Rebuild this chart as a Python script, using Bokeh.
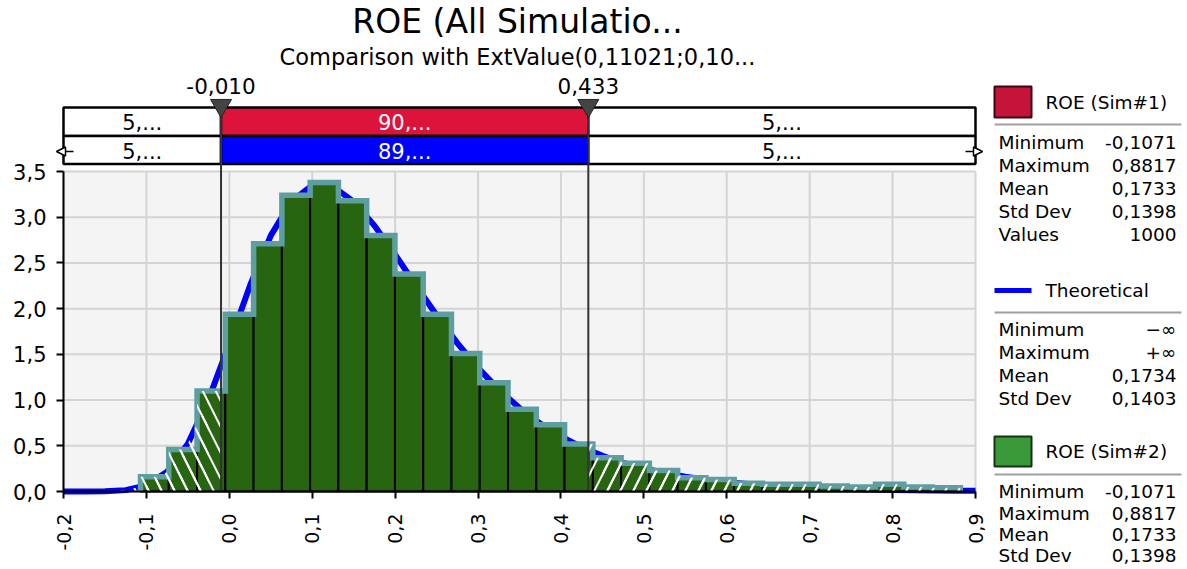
import math
import numpy as np
from bokeh.plotting import figure
from bokeh.models import Range1d, FixedTicker, CustomJSTickFormatter, Arrow, NormalHead
from bokeh.core.properties import value
from bokeh.embed import file_html
from bokeh.resources import INLINE

# ---------------- data ----------------
TITLE = "ROE (All Simulatio..."
SUBTITLE = "Comparison with ExtValue(0,11021;0,10..."

X_TICKS = [-0.2, -0.1, 0.0, 0.1, 0.2, 0.3, 0.4, 0.5, 0.6, 0.7, 0.8, 0.9]
Y_TICKS = [0.0, 0.5, 1.0, 1.5, 2.0, 2.5, 3.0, 3.5]

SIM_MIN = -0.1071
SIM_MAX = 0.8817
DENSITY = [0.16, 0.46, 1.10, 1.94, 2.71, 3.24, 3.38, 3.18, 2.80, 2.38,
           1.94, 1.51, 1.19, 0.90, 0.73, 0.52, 0.37, 0.31, 0.23, 0.15,
           0.13, 0.09, 0.08, 0.08, 0.06, 0.05, 0.08, 0.05, 0.04]

THEO_X = [-0.2, -0.175, -0.15, -0.125, -0.1, -0.075, -0.05, -0.025, 0.0, 0.025,
          0.05, 0.075, 0.1, 0.125, 0.15, 0.175, 0.2, 0.225, 0.25, 0.275,
          0.3, 0.325, 0.35, 0.375, 0.4, 0.425, 0.45, 0.475, 0.5, 0.525,
          0.55, 0.575, 0.6, 0.625, 0.65, 0.675, 0.7, 0.725, 0.75, 0.775,
          0.8, 0.825, 0.85, 0.875, 0.9]
THEO_Y = [0.0, 0.0002, 0.002, 0.015, 0.067, 0.217, 0.523, 1.008, 1.619, 2.254,
          2.799, 3.174, 3.348, 3.334, 3.171, 2.908, 2.591, 2.255, 1.928, 1.623,
          1.352, 1.115, 0.913, 0.743, 0.602, 0.486, 0.391, 0.314, 0.252, 0.202,
          0.161, 0.129, 0.103, 0.082, 0.065, 0.052, 0.041, 0.033, 0.026, 0.021,
          0.017, 0.013, 0.011, 0.008, 0.007]

DELIMS = [-0.010, 0.433]
DELIM_LABELS = ["-0,010", "0,433"]
SIM_PCT = ["5,...", "90,...", "5,..."]
THEO_PCT = ["5,...", "89,...", "5,..."]

SERIES_NAMES = ["ROE (Sim#1)", "Theoretical", "ROE (Sim#2)"]
STAT_NAMES_SIM = ["Minimum", "Maximum", "Mean", "Std Dev", "Values"]
SIM1_STATS = ["-0,1071", "0,8817", "0,1733", "0,1398", "1000"]
STAT_NAMES_THEO = ["Minimum", "Maximum", "Mean", "Std Dev"]
THEO_STATS = ["\u2212\u221e", "+\u221e", "0,1734", "0,1403"]
STAT_NAMES_SIM2 = ["Minimum", "Maximum", "Mean", "Std Dev"]
SIM2_STATS = ["-0,1071", "0,8817", "0,1733", "0,1398"]

# ---------------- styles / layout ----------------
FONT = value("DejaVu Sans")
GREEN = "#286510"
TEAL = "#5f9ea0"
BLUE = "#0000ff"
CRIMSON = "#dc143c"
GRID = "#d4d4d4"
BG = "#f4f4f4"

W, H = 1187, 569
FL, FB = 63, 491                      # position of x=-0.2 / y=0 in page px
X_MIN, X_MAX = X_TICKS[0], X_TICKS[-1]
Y_MAX = Y_TICKS[-1]
PX_PER_X = (975 - FL) / (X_MAX - X_MIN)   # 0.9 sits at 975 px
PX_PER_Y = (FB - 171) / Y_MAX             # 3.5 sits at 171 px

x_range = Range1d(X_MIN - FL / PX_PER_X, X_MIN + (W - FL) / PX_PER_X)
y_range = Range1d(-(H - FB) / PX_PER_Y, FB / PX_PER_Y)

fmt = CustomJSTickFormatter(code="return tick.toFixed(1).replace('.', ',');")

p = figure(width=W, height=H, x_range=x_range, y_range=y_range,
           output_backend="svg", toolbar_location=None,
           min_border_left=0, min_border_right=0, min_border_top=0, min_border_bottom=0)
p.extra_x_ranges = {"px": Range1d(0, W)}
p.extra_y_ranges = {"py": Range1d(H, 0)}
p.xgrid.visible = False
p.ygrid.visible = False
p.outline_line_color = None
p.background_fill_color = "white"
p.border_fill_color = "white"

# axes (placed at fixed data locations inside the frame)
for ax, ticks in ((p.xaxis[0], X_TICKS), (p.yaxis[0], Y_TICKS)):
    ax.ticker = FixedTicker(ticks=ticks)
    ax.formatter = fmt
    ax.axis_line_width = 2
    ax.axis_line_color = "black"
    ax.major_tick_line_width = 2
    ax.major_tick_line_color = "black"
    ax.major_tick_out = 7
    ax.major_tick_in = 0
    ax.minor_tick_line_color = None
    ax.major_label_text_font = "DejaVu Sans"
    ax.major_label_text_color = "black"
p.xaxis[0].fixed_location = 0
p.yaxis[0].fixed_location = X_MIN
p.xaxis[0].bounds = (X_MIN, X_MAX)
p.yaxis[0].bounds = (0, Y_MAX)
p.xaxis[0].major_label_orientation = math.pi / 2
p.xaxis[0].major_label_text_font_size = "19px"
p.xaxis[0].major_label_standoff = 15
p.yaxis[0].major_label_text_font_size = "21px"
p.yaxis[0].major_label_standoff = 10

# plot background + grid
p.quad(left=[X_MIN], right=[X_MAX], bottom=[0], top=[Y_MAX], fill_color=BG, line_color=None)
p.segment(x0=X_TICKS, x1=X_TICKS, y0=[0] * len(X_TICKS), y1=[Y_MAX] * len(X_TICKS),
          line_color=GRID, line_width=2)
p.segment(x0=[X_MIN] * len(Y_TICKS), x1=[X_MAX] * len(Y_TICKS), y0=Y_TICKS, y1=Y_TICKS,
          line_color=GRID, line_width=2)

# theoretical curve
p.line(THEO_X, THEO_Y, line_color=BLUE, line_width=6, line_join="round")

# histogram bars
edges = np.linspace(SIM_MIN, SIM_MAX, len(DENSITY) + 1)
p.quad(left=edges[:-1], right=edges[1:], bottom=0, top=DENSITY,
       fill_color=GREEN, line_color="black", line_width=2)

# step outline
sx, sy = [edges[0]], [0.0]
for i, d in enumerate(DENSITY):
    sx += [edges[i], edges[i + 1]]
    sy += [d, d]
sx.append(edges[-1])
sy.append(0.0)
p.line(sx, sy, line_color=TEAL, line_width=5.5, line_join="miter")

# hatching outside delimiters
D1, D2 = DELIMS
hl = dict(left=[], right=[], top=[])
hr = dict(left=[], right=[], top=[])
for i, d in enumerate(DENSITY):
    l, r = edges[i], edges[i + 1]
    if l < D1:
        hl["left"].append(l); hl["right"].append(min(r, D1)); hl["top"].append(d)
    if r > D2:
        hr["left"].append(max(l, D2)); hr["right"].append(r); hr["top"].append(d)
HATCH = dict(fill_alpha=0, line_color=None, hatch_color="white", hatch_weight=2, hatch_scale=26)
p.quad(bottom=0, **hl, hatch_pattern="\\", **HATCH)
p.quad(bottom=0, **hr, hatch_pattern="/", **HATCH)
lx = [x for x in THEO_X if x <= D1]
ly = [y for x, y in zip(THEO_X, THEO_Y) if x <= D1]
rx = [x for x in THEO_X if x >= D2]
ry = [y for x, y in zip(THEO_X, THEO_Y) if x >= D2]
VH = dict(fill_alpha=0, hatch_color="white", hatch_weight=2, hatch_scale=26)
p.varea(x=lx, y1=[0] * len(lx), y2=ly, hatch_pattern="\\", **VH)
p.varea(x=rx, y1=[0] * len(rx), y2=ry, hatch_pattern="/", **VH)

# delimiter bar boxes
seg_l = [X_MIN, D1, D2]
seg_r = [D1, D2, X_MAX]
p.quad(left=seg_l, right=seg_r, top=[107] * 3, bottom=[135.5] * 3,
       fill_color=["white", CRIMSON, "white"], line_color="black", line_width=2.5,
       y_range_name="py")
p.quad(left=seg_l, right=seg_r, top=[135.5] * 3, bottom=[163.5] * 3,
       fill_color=["white", BLUE, "white"], line_color="black", line_width=2.5,
       y_range_name="py")
centers = [(a + b) / 2 for a, b in zip(seg_l, seg_r)]
TXT = dict(text_font=FONT, text_baseline="middle", y_range_name="py")
p.text(x=centers, y=[121.5] * 3, text=SIM_PCT, text_color=["black", "white", "black"],
       text_align="center", text_font_size="21px", **TXT)
p.text(x=centers, y=[150] * 3, text=THEO_PCT, text_color=["black", "white", "black"],
       text_align="center", text_font_size="21px", **TXT)

# delimiter lines, markers, labels
p.segment(x0=DELIMS, x1=DELIMS, y0=[FB, FB], y1=[107, 107], line_color="#333333",
          line_width=2, y_range_name="py")
p.scatter(x=DELIMS, y=[105, 105], marker="inverted_triangle", size=21,
          fill_color="#444444", line_color="#222222", y_range_name="py")
p.text(x=DELIMS, y=[85.5, 85.5], text=DELIM_LABELS, text_align="center",
       text_font_size="21.5px", text_color="black", **TXT)

# arrows at the ends of theoretical row
for xs, xe in ((73, 56), (965, 982)):
    p.add_layout(Arrow(x_start=xs, y_start=151, x_end=xe, y_end=151,
                       x_range_name="px", y_range_name="py",
                       line_color="black", line_width=1.5,
                       end=NormalHead(size=9, fill_color="white", line_color="black",
                                      line_width=1.5)))

# titles
p.text(x=[517], y=[21], text=[TITLE], text_align="center", text_font_size="33px",
       text_color="black", x_range_name="px", **TXT)
p.text(x=[517], y=[56.5], text=[SUBTITLE], text_align="center", text_font_size="22.5px",
       text_color="black", x_range_name="px", **TXT)

# ---------------- legend / statistics panel ----------------
LT = dict(text_font=FONT, text_font_size="18.5px", text_color="black", text_baseline="middle",
          x_range_name="px", y_range_name="py")
PXY = dict(x_range_name="px", y_range_name="py")

# Sim#1
p.quad(left=[994], right=[1031], top=[86], bottom=[117], fill_color="#c4143a",
       line_color="#3a0510", line_width=2, **PXY)
p.text(x=[1045], y=[102], text=[SERIES_NAMES[0]], text_align="left", **LT)
p.segment(x0=[994], x1=[1181], y0=[124], y1=[124], line_color="#a0a0a0", line_width=2, **PXY)
ys1 = [142, 165, 188, 211, 234]
p.text(x=[998] * 5, y=ys1, text=STAT_NAMES_SIM, text_align="left", **LT)
p.text(x=[1176] * 5, y=ys1, text=SIM1_STATS, text_align="right", **LT)

# Theoretical
p.segment(x0=[994], x1=[1031], y0=[290], y1=[290], line_color=BLUE, line_width=5, **PXY)
p.text(x=[1045], y=[290], text=[SERIES_NAMES[1]], text_align="left", **LT)
p.segment(x0=[994], x1=[1181], y0=[312], y1=[312], line_color="#a0a0a0", line_width=2, **PXY)
yst = [329, 352, 375, 398]
p.text(x=[998] * 4, y=yst, text=STAT_NAMES_THEO, text_align="left", **LT)
p.text(x=[1176] * 4, y=yst, text=THEO_STATS, text_align="right", **LT)

# Sim#2
p.quad(left=[994], right=[1031], top=[436], bottom=[466], fill_color="#3a9a3a",
       line_color="#143214", line_width=2, **PXY)
p.text(x=[1045], y=[451], text=[SERIES_NAMES[2]], text_align="left", **LT)
p.segment(x0=[994], x1=[1181], y0=[474], y1=[474], line_color="#a0a0a0", line_width=2, **PXY)
ys2 = [491, 512.5, 534, 555]
p.text(x=[998] * 4, y=ys2, text=STAT_NAMES_SIM2, text_align="left", **LT)
p.text(x=[1176] * 4, y=ys2, text=SIM2_STATS, text_align="right", **LT)

open("out.html", "w").write(file_html(p, INLINE))
